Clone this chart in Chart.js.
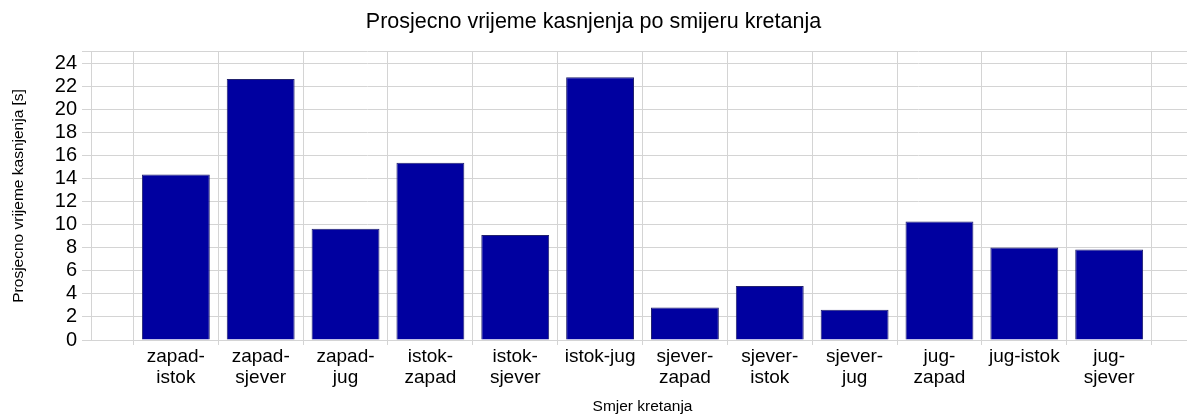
<!DOCTYPE html>
<html>
<head>
<meta charset="utf-8">
<script src="https://cdn.jsdelivr.net/npm/chart.js@4"></script>
<style>
html,body{margin:0;padding:0;background:#fff;overflow:hidden;}
#wrap{width:1195px;height:414px;}
</style>
</head>
<body>
<div id="wrap"><canvas id="c" width="1195" height="414"></canvas></div>
<script>
const categories = [
  ['zapad-','istok'], ['zapad-','sjever'], ['zapad-','jug'], ['istok-','zapad'],
  ['istok-','sjever'], 'istok-jug', ['sjever-','zapad'], ['sjever-','istok'],
  ['sjever-','jug'], ['jug-','zapad'], 'jug-istok', ['jug-','sjever']
];
const delays = [14.35, 22.64, 9.64, 15.37, 9.1, 22.79, 2.83, 4.68, 2.63, 10.28, 8.03, 7.86];
const yTicks = [0, 2, 4, 6, 8, 10, 12, 14, 16, 18, 20, 22, 24];
const yMax = 25;

const labels = [''].concat(categories).concat(['']);
const values = [null].concat(delays).concat([null]);

const FONT = "'Liberation Sans', Arial, sans-serif";
const GRID = '#d4d4d4';

Chart.defaults.font.family = FONT;
Chart.defaults.color = '#000';

new Chart(document.getElementById('c'), {
  type: 'bar',
  data: {
    labels: labels,
    datasets: [{
      data: values,
      backgroundColor: '#0000a0',
      borderColor: '#22226e',
      borderWidth: 1,
      categoryPercentage: 0.8,
      barPercentage: 1
    }]
  },
  options: {
    responsive: false,
    animation: false,
    devicePixelRatio: 1,
    layout: { padding: 0 },
    plugins: {
      legend: { display: false },
      tooltip: { enabled: false },
      title: {
        display: true,
        text: 'Prosjecno vrijeme kasnjenja po smijeru kretanja',
        font: { size: 21.5, weight: 'normal', lineHeight: 1.2 },
        color: '#000',
        padding: { top: 9, bottom: 17 }
      }
    },
    scales: {
      x: {
        type: 'category',
        offset: false,
        grid: { color: GRID, tickLength: 5, drawTicks: true },
        border: { color: GRID },
        ticks: {
          autoSkip: false, maxRotation: 0, minRotation: 0,
          font: { size: 19, lineHeight: 1.1 },
          padding: 1,
          color: '#000'
        },
        title: {
          display: true,
          text: 'Smjer kretanja',
          font: { size: 15.5, lineHeight: 0.9 },
          padding: { top: 0, bottom: 0 },
          color: '#000'
        },
        afterFit(scale) { scale.height = 74; }
      },
      y: {
        min: 0,
        max: yMax,
        grid: { color: GRID, tickLength: 9 },
        border: { color: GRID },
        ticks: {
          autoSkip: false,
          font: { size: 20 },
          padding: 5,
          color: '#000',
          callback: (v) => (yTicks.includes(v) ? String(v) : '')
        },
        afterBuildTicks(scale) {
          scale.ticks = yTicks.concat([yMax]).map(v => ({ value: v }));
        },
        title: {
          display: true,
          text: 'Prosjecno vrijeme kasnjenja [s]',
          font: { size: 15.5, lineHeight: 1.2 },
          padding: { top: 9, bottom: 0 },
          color: '#000'
        },
        afterFit(scale) { scale.width = 91; }
      }
    }
  },
  plugins: [{
    id: 'titleCenter',
    afterLayout(chart) {
      const t = chart.titleBlock;
      if (t) { t.right = 1187; t.width = 1187 - t.left; }
    }
  }]
});
</script>
</body>
</html>
